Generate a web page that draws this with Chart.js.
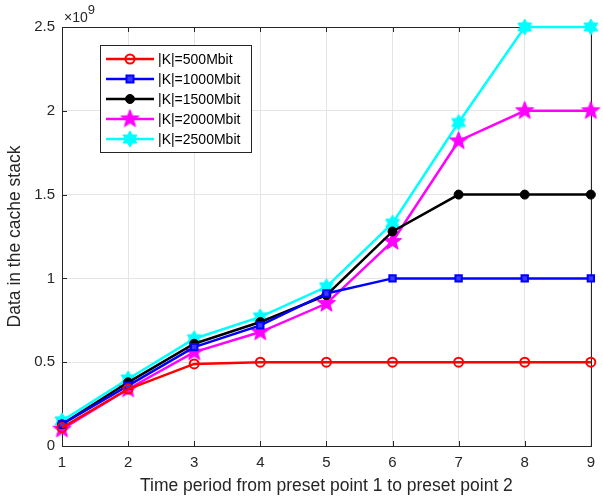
<!DOCTYPE html>
<html>
<head>
<meta charset="utf-8">
<script src="https://cdn.jsdelivr.net/npm/chart.js@4"></script>
<style>
  html, body { margin: 0; padding: 0; background: #fff; }
</style>
</head>
<body>
<canvas id="grafico" width="603" height="499"></canvas>
<script>
// Dados (eixo y em unidades de 10^9)
const periodos = [1, 2, 3, 4, 5, 6, 7, 8, 9];
const k500  = [0.11, 0.34, 0.49, 0.50, 0.50, 0.50, 0.50, 0.50, 0.50];
const k1000 = [0.13, 0.36, 0.59, 0.72, 0.91, 1.00, 1.00, 1.00, 1.00];
const k1500 = [0.13, 0.38, 0.61, 0.74, 0.90, 1.28, 1.50, 1.50, 1.50];
const k2000 = [0.10, 0.34, 0.56, 0.68, 0.85, 1.22, 1.82, 2.00, 2.00];
const k2500 = [0.15, 0.40, 0.64, 0.77, 0.95, 1.33, 1.93, 2.50, 2.50];
const rotulos = ['|K|=500Mbit', '|K|=1000Mbit', '|K|=1500Mbit', '|K|=2000Mbit', '|K|=2500Mbit'];
const ticksY = [0, 0.5, 1, 1.5, 2, 2.5];

const fonte = 'Liberation Sans, Arial, Helvetica, sans-serif';
const corTexto = '#262626';

// Cria uma estrela preenchida (pentagrama / hexagrama) como imagem para o pointStyle
function criarEstrela(pontas, raio, razao, cor) {
  const c = document.createElement('canvas');
  const lado = Math.ceil(raio * 2 + 4);
  c.width = lado; c.height = lado;
  const g = c.getContext('2d');
  g.translate(lado / 2, lado / 2);
  g.beginPath();
  for (let i = 0; i < pontas * 2; i++) {
    const r = i % 2 === 0 ? raio : raio * razao;
    const a = -Math.PI / 2 + i * Math.PI / pontas;
    const px = r * Math.cos(a), py = r * Math.sin(a);
    if (i === 0) g.moveTo(px, py); else g.lineTo(px, py);
  }
  g.closePath();
  g.fillStyle = cor;
  g.fill();
  g.strokeStyle = cor;
  g.lineWidth = 1;
  g.stroke();
  return c;
}

const pentagrama = criarEstrela(5, 9.5, 0.42, '#ff00ff');
const hexagrama = criarEstrela(6, 8, 0.58, '#00ffff');

function serie(valores) {
  return valores.map((v, i) => ({ x: periodos[i], y: v }));
}

const datasets = [
  { label: rotulos[0], data: serie(k500), borderColor: '#ff0000', backgroundColor: 'rgba(255,255,255,0)',
    pointStyle: 'circle', pointRadius: 4.5, pointBorderWidth: 2, pointBackgroundColor: 'rgba(255,255,255,0)' },
  { label: rotulos[1], data: serie(k1000), borderColor: '#0000ff', backgroundColor: '#0000ff',
    pointStyle: 'rect', pointRadius: 4.5, pointBorderWidth: 2, pointBackgroundColor: '#3a3aff' },
  { label: rotulos[2], data: serie(k1500), borderColor: '#000000', backgroundColor: '#000000',
    pointStyle: 'circle', pointRadius: 4.5, pointBorderWidth: 1, pointBackgroundColor: '#000000' },
  { label: rotulos[3], data: serie(k2000), borderColor: '#ff00ff', backgroundColor: '#ff00ff',
    pointStyle: pentagrama, pointRadius: 8 },
  { label: rotulos[4], data: serie(k2500), borderColor: '#00ffff', backgroundColor: '#00ffff',
    pointStyle: hexagrama, pointRadius: 8 },
].map(d => Object.assign({ borderWidth: 2.5, tension: 0, fill: false, clip: false, pointHoverRadius: d.pointRadius }, d));

// Plugin: caixa do eixo, marcas internas, fator x10^9 e legenda estilo MATLAB
const extrasMatlab = {
  id: 'extrasMatlab',
  beforeDatasetsDraw(chart) {
    const ctx = chart.ctx;
    const a = chart.chartArea;
    const sx = chart.scales.x, sy = chart.scales.y;
    ctx.save();
    // caixa
    ctx.strokeStyle = corTexto;
    ctx.lineWidth = 1;
    ctx.strokeRect(Math.round(a.left) + 0.5, Math.round(a.top) + 0.5,
                   Math.round(a.right - a.left), Math.round(a.bottom - a.top));
    // marcas internas
    ctx.beginPath();
    periodos.forEach(p => {
      const x = Math.round(sx.getPixelForValue(p)) + 0.5;
      ctx.moveTo(x, a.bottom); ctx.lineTo(x, a.bottom - 5);
      ctx.moveTo(x, a.top); ctx.lineTo(x, a.top + 5);
    });
    ticksY.forEach(t => {
      const y = Math.round(sy.getPixelForValue(t)) + 0.5;
      ctx.moveTo(a.left, y); ctx.lineTo(a.left + 5, y);
      ctx.moveTo(a.right, y); ctx.lineTo(a.right - 5, y);
    });
    ctx.stroke();
    ctx.restore();
  },
  afterDatasetsDraw(chart) {
    const ctx = chart.ctx;
    const a = chart.chartArea;
    ctx.save();
    // fator de escala
    ctx.fillStyle = corTexto;
    ctx.textBaseline = 'alphabetic';
    ctx.textAlign = 'left';
    ctx.font = '14px ' + fonte;
    ctx.fillText('\u00d710', a.left + 2, a.top - 5);
    const w = ctx.measureText('\u00d710').width;
    ctx.font = '13px ' + fonte;
    ctx.fillText('9', a.left + 2 + w, a.top - 13);

    // legenda
    const lx = 100, ly = 45, lw = 151, lh = 107;
    ctx.fillStyle = '#ffffff';
    ctx.fillRect(lx, ly, lw, lh);
    ctx.strokeStyle = corTexto;
    ctx.lineWidth = 1;
    ctx.strokeRect(lx + 0.5, ly + 0.5, lw, lh);
    chart.data.datasets.forEach((d, i) => {
      const yy = ly + 14 + i * 20;
      ctx.strokeStyle = d.borderColor;
      ctx.lineWidth = 2.5;
      ctx.beginPath();
      ctx.moveTo(lx + 6, yy);
      ctx.lineTo(lx + 54, yy);
      ctx.stroke();
      const cx = lx + 30;
      if (d.pointStyle instanceof HTMLCanvasElement) {
        ctx.drawImage(d.pointStyle, cx - d.pointStyle.width / 2, yy - d.pointStyle.height / 2);
      } else {
        ctx.fillStyle = d.pointBackgroundColor;
        ctx.strokeStyle = d.borderColor;
        ctx.lineWidth = d.pointBorderWidth;
        ctx.beginPath();
        if (d.pointStyle === 'rect') {
          ctx.rect(cx - 3.5, yy - 3.5, 7, 7);
        } else {
          ctx.arc(cx, yy, d.pointRadius, 0, Math.PI * 2);
        }
        ctx.fill();
        ctx.stroke();
      }
      ctx.fillStyle = '#000000';
      ctx.font = '14px ' + fonte;
      ctx.textBaseline = 'middle';
      ctx.fillText(d.label, lx + 58, yy + 1);
    });
    ctx.restore();
  }
};

const config = {
  type: 'line',
  data: { datasets: datasets },
  options: {
    responsive: false,
    animation: false,
    layout: { padding: { top: 27, right: 6, left: 0, bottom: 0 } },
    plugins: {
      legend: { display: false },
      tooltip: { enabled: false }
    },
    scales: {
      x: {
        type: 'linear',
        min: 1,
        max: 9,
        afterFit: s => { s.height = 53; },
        ticks: { stepSize: 1, color: corTexto, padding: 8, font: { family: fonte, size: 15 } },
        grid: { color: '#e5e5e5', drawTicks: false },
        border: { display: false },
        title: { display: true, text: 'Time period from preset point 1 to preset point 2',
                 color: corTexto, padding: { top: 0, bottom: 2 }, font: { family: fonte, size: 17.5 } }
      },
      y: {
        min: 0,
        max: 2.5,
        afterFit: s => { s.width = 62; },
        afterBuildTicks: s => { s.ticks = ticksY.map(v => ({ value: v })); },
        ticks: { color: corTexto, padding: 7, font: { family: fonte, size: 15 },
                 callback: v => String(v) },
        grid: { color: '#e5e5e5', drawTicks: false },
        border: { display: false },
        title: { display: true, text: 'Data in the cache stack',
                 color: corTexto, padding: { top: 5, bottom: 0 }, font: { family: fonte, size: 17.5 } }
      }
    }
  },
  plugins: [extrasMatlab]
};

new Chart(document.getElementById('grafico').getContext('2d'), config);
</script>
</body>
</html>
